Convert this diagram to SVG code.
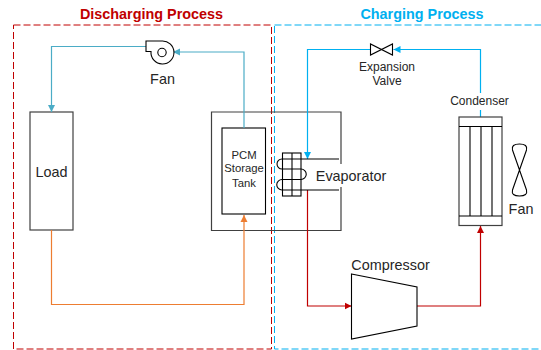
<svg xmlns="http://www.w3.org/2000/svg" width="541" height="350" viewBox="0 0 541 350">
<style>
text{font-family:"Liberation Sans",Arial,sans-serif;fill:#262626;text-anchor:middle}
.box{fill:#fff;stroke:#404040;stroke-width:1.2}
.sym{fill:#fff;stroke:#000;stroke-width:1.1}
.ln{fill:none;stroke:#000;stroke-width:1.1}
.wire{fill:none;stroke-width:1.2}
.l13{font-size:14.4px}
.l11{font-size:12px}
.l10{font-size:11.3px}
.t{font-size:14.4px;font-weight:bold}
</style>
<defs>
<marker id="aB" markerUnits="userSpaceOnUse" markerWidth="8" markerHeight="8" refX="7" refY="4" orient="auto"><path d="M0,0.5L7,4L0,7.5z" fill="#4bacc6"/></marker>
<marker id="aC" markerUnits="userSpaceOnUse" markerWidth="8" markerHeight="8" refX="7" refY="4" orient="auto"><path d="M0,0.5L7,4L0,7.5z" fill="#00b0f0"/></marker>
<marker id="aO" markerUnits="userSpaceOnUse" markerWidth="8" markerHeight="8" refX="7" refY="4" orient="auto"><path d="M0,0.5L7,4L0,7.5z" fill="#ed7d31"/></marker>
<marker id="aR" markerUnits="userSpaceOnUse" markerWidth="8" markerHeight="8" refX="7" refY="4" orient="auto"><path d="M0,0.5L7,4L0,7.5z" fill="#c00000"/></marker>
</defs>
<g id="discharging-region">
<rect x="13.5" y="25" width="258" height="324" fill="none" stroke="#c00000" stroke-width="1" stroke-dasharray="7 3"/>
<text class="t" x="151.500" y="19" style="fill:#c00000">Discharging Process</text>
</g>
<g id="charging-region">
<rect x="274.500" y="25" width="270" height="324" fill="none" stroke="#00b0f0" stroke-width="1" stroke-dasharray="7 3"/>
<text class="t" x="422" y="19" style="fill:#00b0f0">Charging Process</text>
</g>
<g id="load"><rect class="box" x="30" y="112" width="43" height="118"/><text class="l13" x="51.500" y="177">Load</text></g>
<g id="tank-casing"><path class="box" d="M341,164V112H211.500V230.500H341V187" style="fill:none"/></g>
<g id="pcm-tank"><rect class="sym" x="222" y="128" width="43.500" height="86"/>
<text class="l10" x="244" y="159">PCM</text><text class="l10" x="244" y="172">Storage</text><text class="l10" x="244" y="187">Tank</text></g>
<g id="connectors">
<path class="wire" stroke="#4bacc6" d="M146,46.500H51.500V112" marker-end="url(#aB)"/>
<path class="wire" stroke="#4bacc6" d="M244,128V52H173" marker-end="url(#aB)"/>
<path class="wire" stroke="#ed7d31" d="M51.500,230V304.500H244V215" marker-end="url(#aO)"/>
<path class="wire" stroke="#00b0f0" d="M480.500,117V49.500H393.500" marker-end="url(#aC)"/>
<path class="wire" stroke="#00b0f0" d="M370,49.500H307.500V159" marker-end="url(#aC)"/>
<path class="wire" stroke="#c00000" d="M307.500,190V306H351.500" marker-end="url(#aR)"/>
<path class="wire" stroke="#c00000" d="M417,306H480.500V226" marker-end="url(#aR)"/>
</g>
<g id="fan-blower">
<path class="sym" d="M146,41H161.500A11.500,11.500 0 1 1 151,51.500H146Z"/>
<circle class="sym" cx="162" cy="52.500" r="4.200"/>
<text class="l13" x="162.500" y="84">Fan</text>
</g>
<g id="expansion-valve">
<path class="sym" d="M370.500,44V55L392.500,44V55Z"/>
<text class="l11" x="387" y="71">Expansion</text><text class="l11" x="387" y="85">Valve</text>
</g>
<g id="condenser">
<rect x="448" y="93" width="64" height="17" fill="#fff"/>
<text class="l11" x="479.500" y="105">Condenser</text>
<rect class="box" x="459" y="117" width="43" height="108.500"/>
<path class="ln" d="M459,126.500H502M459,216H502M470,126.500V216M481,126.500V216M492,126.500V216"/>
</g>
<g id="condenser-fan">
<path class="sym" style="fill:none" d="M519.500,170L512.500,150Q511,144 519.500,144Q528,144 526.500,150L512.500,190Q511,196 519.500,196Q528,196 526.500,190Z"/>
<text class="l13" x="521" y="213.500">Fan</text>
</g>
<g id="evaporator">
<rect class="sym" style="fill:none" x="282.500" y="153" width="18.500" height="43"/>
<path class="ln" d="M292,153V196"/>
<path class="ln" d="M339,159H282A5,5 0 0 0 282,169H301A5,5 0 0 1 301,179.500H282A5.200,5.200 0 0 0 282,190H339"/>
<text class="l13" x="351" y="181">Evaporator</text>
</g>
<g id="compressor">
<path class="sym" d="M351.500,274L417,287V326L351.500,339Z"/>
<text class="l13" x="390.500" y="270">Compressor</text>
</g>
</svg>
